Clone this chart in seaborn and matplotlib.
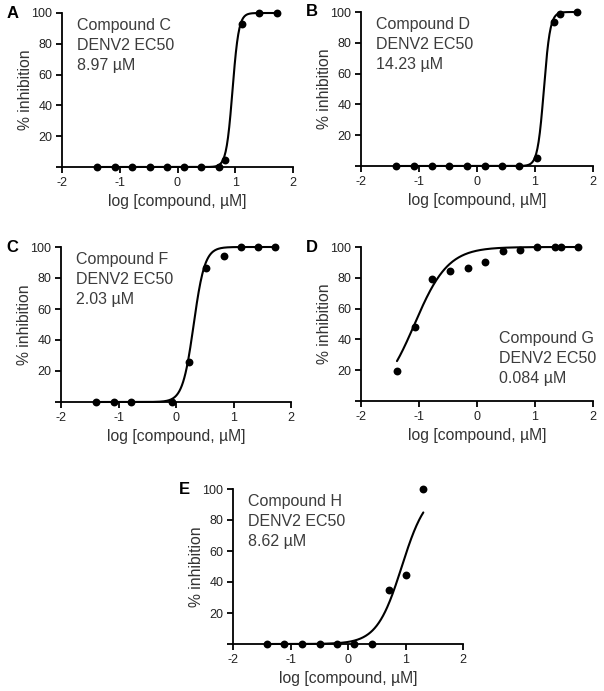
import numpy as np
import pandas as pd
import matplotlib
matplotlib.use("Agg")
import matplotlib.pyplot as plt
import seaborn as sns

# Data (log10 concentration in uM, % inhibition)
a_x = [-1.40, -1.09, -0.79, -0.48, -0.18, 0.11, 0.41, 0.71, 0.82, 1.12, 1.41, 1.72]
a_y = [0, 0, 0, 0, 0, 0, 0, 0, 4.8, 93, 100, 100]
b_x = [-1.39, -1.08, -0.78, -0.48, -0.17, 0.13, 0.43, 0.73, 1.03, 1.33, 1.43, 1.73]
b_y = [0, 0, 0, 0, 0, 0, 0, 0, 5.4, 93.7, 99, 100]
c_x = [-1.39, -1.08, -0.78, -0.07, 0.22, 0.52, 0.83, 1.13, 1.43, 1.73]
c_y = [0, 0, 0, 0, 26, 86.4, 94.4, 100, 100, 100]
d_x = [-1.38, -1.07, -0.77, -0.46, -0.16, 0.14, 0.44, 0.74, 1.04, 1.34, 1.44, 1.74]
d_y = [19.6, 48.3, 79.1, 84.1, 86.5, 90.4, 97.4, 97.8, 99.8, 100, 100, 100]
e_x = [-1.41, -1.11, -0.80, -0.49, -0.19, 0.11, 0.41, 0.71, 1.01, 1.31]
e_y = [0, 0, 0, 0, 0, 0, 0, 34.6, 44.8, 100]

# fitted 4PL parameters: EC50 (uM), hill slope
ec50 = [8.97, 14.23, 2.03, 0.084, 8.62]
hill = [8.0, 8.0, 4.5, 1.5, 2.0]
names = ["Compound C", "Compound D", "Compound F", "Compound G", "Compound H"]
ec50_txt = ["8.97 µM", "14.23 µM", "2.03 µM", "0.084 µM", "8.62 µM"]
letters = ["A", "B", "C", "D", "E"]

sns.set_theme(style="ticks")
plt.rcParams["font.family"] = ["Liberation Sans", "DejaVu Sans"]

W, H = 604, 691
fig = plt.figure(figsize=(W / 100, H / 100), dpi=100)

# axes boxes in pixels: left, top, right, bottom
boxes = [(62, 13, 293, 167), (361, 12, 593, 166), (61, 247, 291, 402),
         (361, 247, 593, 401), (233, 489, 463, 644)]
xs = [a_x, b_x, c_x, d_x, e_x]
ys = [a_y, b_y, c_y, d_y, e_y]

for i in range(5):
    l, t, r, b = boxes[i]
    ax = fig.add_axes([l / W, 1 - b / H, (r - l) / W, (b - t) / H])

    df = pd.DataFrame({"x": xs[i], "y": ys[i]})
    xf = np.linspace(min(xs[i]), max(xs[i]), 300)
    yf = 100 / (1 + 10 ** (hill[i] * (np.log10(ec50[i]) - xf)))
    fit = pd.DataFrame({"x": xf, "y": yf})

    sns.lineplot(data=fit, x="x", y="y", ax=ax, color="black", lw=1.5, clip_on=False)
    sns.scatterplot(data=df, x="x", y="y", ax=ax, color="black", s=32,
                    edgecolor="black", linewidth=0, clip_on=False, zorder=5)

    ax.set_xlim(-2, 2)
    ax.set_ylim(0, 100)
    ax.set_xticks([-2, -1, 0, 1, 2])
    ax.set_xticklabels(["-2", "-1", "0", "1", "2"])
    ax.set_yticks([0, 20, 40, 60, 80, 100])
    ax.set_yticklabels(["", "20", "40", "60", "80", "100"])
    ax.tick_params(direction="out", length=4, width=1.3, labelsize=9, pad=3,
                   colors="black", labelcolor="#222222")
    for s in ["top", "right"]:
        ax.spines[s].set_visible(False)
    for s in ["left", "bottom"]:
        ax.spines[s].set_linewidth(1.3)
        ax.spines[s].set_color("black")
    ax.set_xlabel("log [compound, µM]", fontsize=11.3, color="#333333", labelpad=4)
    ax.set_ylabel("% inhibition", fontsize=11.3, color="#333333", labelpad=-1)

    txt = names[i] + "\nDENV2 EC50\n" + ec50_txt[i]
    if i == 3:
        ax.text(0.595, 0.10, txt, transform=ax.transAxes, ha="left", va="bottom",
                fontsize=11.5, color="#3c3c3c", linespacing=1.4)
    else:
        ax.text(0.065, 0.965, txt, transform=ax.transAxes, ha="left", va="top",
                fontsize=11.5, color="#3c3c3c", linespacing=1.4)

    fig.text((l - 49) / W, 1 - t / H, letters[i], ha="center", va="center",
             fontsize=12, fontweight="bold", color="black")

fig.savefig("out.png", dpi=100)
